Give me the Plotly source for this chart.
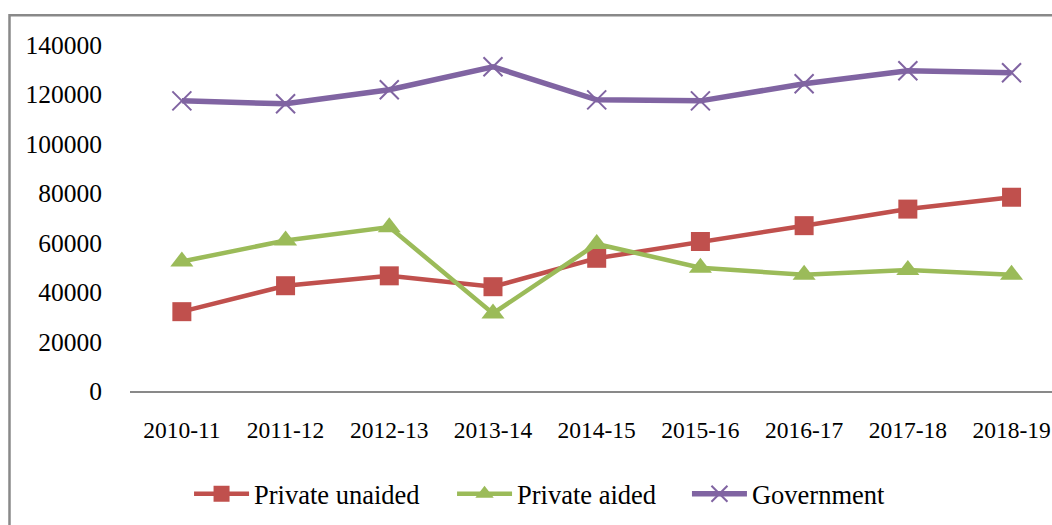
import plotly.graph_objects as go

years = ["2010-11", "2011-12", "2012-13", "2013-14", "2014-15",
         "2015-16", "2016-17", "2017-18", "2018-19"]
private_unaided = [32100, 42600, 46600, 42200, 53700, 60500, 66900, 73600, 78400]
private_aided = [52400, 60900, 66300, 31400, 59500, 49900, 47000, 49000, 47000]
government = [117400, 116200, 121900, 131200, 117800, 117400, 124300, 129600, 128800]
y_ticks = [0, 20000, 40000, 60000, 80000, 100000, 120000, 140000]

FONT = "Liberation Serif, Times New Roman, serif"
GRAY = "#898989"

fig = go.Figure()
fig.add_trace(go.Scatter(
    x=years, y=private_unaided, name="Private unaided", mode="lines+markers",
    line=dict(color="#C0504D", width=4.5),
    marker=dict(symbol="square", size=19, color="#C0504D"),
    legend="legend",
))
fig.add_trace(go.Scatter(
    x=years, y=private_aided, name="Private aided", mode="lines+markers",
    line=dict(color="#9BBB59", width=4.5),
    marker=dict(symbol="triangle-up", size=20, color="#9BBB59"),
    legend="legend2",
))
fig.add_trace(go.Scatter(
    x=years, y=government, name="Government", mode="lines+markers",
    line=dict(color="#8064A2", width=5.5),
    marker=dict(symbol="x-thin", size=19, color="#8064A2",
                line=dict(color="#8064A2", width=2)),
    legend="legend3",
))


def legend_box(x):
    return dict(orientation="h", xref="container", yref="container",
                x=x, xanchor="left", y=0.059, yanchor="middle",
                font=dict(family=FONT, size=26.5, color="black"),
                bgcolor="rgba(0,0,0,0)", itemwidth=55)


fig.update_layout(
    width=1052, height=525,
    margin=dict(l=130, r=0, t=45, b=134, autoexpand=False),
    paper_bgcolor="white", plot_bgcolor="white",
    font=dict(family=FONT, size=24, color="black"),
    showlegend=True,
    legend=legend_box(0.1797),
    legend2=legend_box(0.4297),
    legend3=legend_box(0.653),
    xaxis=dict(type="category", range=[-0.5, 8.39], showgrid=False, zeroline=False,
               showline=True, linecolor=GRAY, linewidth=2,
               ticks="", ticklabelstandoff=17, tickangle=0,
               tickfont=dict(family=FONT, size=23.5, color="black")),
    yaxis=dict(range=[0, 140000], tickvals=y_ticks,
               ticktext=[str(v) for v in y_ticks],
               showgrid=False, zeroline=False, showline=False,
               ticks="", ticklabelstandoff=27,
               tickfont=dict(family=FONT, size=25.5, color="black")),
    shapes=[dict(type="rect", xref="paper", yref="paper",
                 x0=-0.1307, x1=1.2, y0=-0.6, y1=1.0858,
                 line=dict(color=GRAY, width=2.5), fillcolor="rgba(0,0,0,0)",
                 layer="below")],
)

fig.write_html("out.html")
